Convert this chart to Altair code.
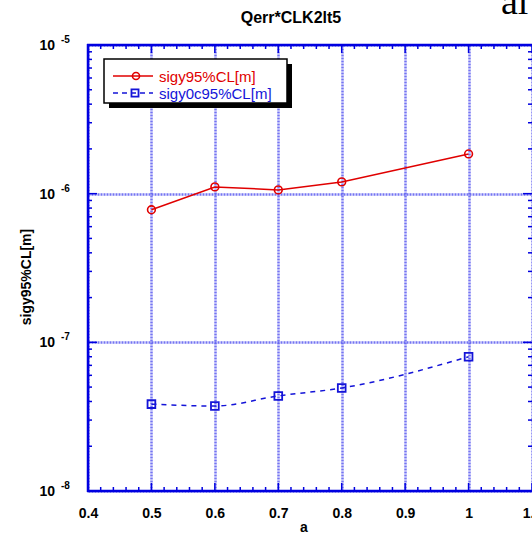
import altair as alt
import pandas as pd

# ---- data ----
a_vals = [0.5, 0.6, 0.7, 0.8, 1.0]
sigy95 = [7.8e-7, 1.11e-6, 1.06e-6, 1.2e-6, 1.85e-6]
sigy0c95 = [3.84e-8, 3.73e-8, 4.36e-8, 4.93e-8, 8.0e-8]

x_major = [0.4, 0.5, 0.6, 0.7, 0.8, 0.9, 1.0, 1.1]
x_minor = [0.42, 0.44, 0.46, 0.48, 0.52, 0.54, 0.56, 0.58, 0.62, 0.64, 0.66, 0.68,
           0.72, 0.74, 0.76, 0.78, 0.82, 0.84, 0.86, 0.88, 0.92, 0.94, 0.96, 0.98,
           1.02, 1.04, 1.06, 1.08]
y_decades = [1e-8, 1e-7, 1e-6, 1e-5]
y_exps = ["-8", "-7", "-6", "-5"]
y_minor = [m * d for d in [1e-8, 1e-7, 1e-6] for m in [2, 3, 4, 5, 6, 7, 8, 9]]

title_text = "Qerr*CLK2lt5"
x_title = "a"
y_title = "sigy95%CL[m]"
series_names = ["sigy95%CL[m]", "sigy0c95%CL[m]"]

# ---- styling ----
W, H = 444, 446
FONT = "Liberation Sans"
AXC = "#0000e0"
GRIDC = "#5c5cf0"
RED = "#e00000"
BLUE = "#1414d8"

xscale = alt.Scale(domain=[0.4, 1.1], nice=False, zero=False)
yscale = alt.Scale(type="log", domain=[1e-8, 1e-5], nice=False)

xaxis = alt.Axis(values=x_major, format="~g", labelFont=FONT, labelFontSize=14,
                 labelFontWeight="bold", labelColor="black", labelPadding=15,
                 ticks=False, domain=False, grid=True, gridColor=GRIDC,
                 gridDash=[2, 1], gridWidth=2.5, gridOpacity=0.85, title=None,
                 labelFlush=False)
yaxis = alt.Axis(values=y_decades, labels=False, ticks=False, domain=False,
                 grid=True, gridColor=GRIDC, gridDash=[2, 1], gridWidth=2.5,
                 gridOpacity=0.85, title=None)

X = lambda: alt.X("a:Q", scale=xscale, axis=xaxis)
Y = lambda: alt.Y("v:Q", scale=yscale, axis=yaxis)

df_red = pd.DataFrame({"a": a_vals, "v": sigy95})
df_blue = pd.DataFrame({"a": a_vals, "v": sigy0c95})

red_line = alt.Chart(df_red).mark_line(color=RED, strokeWidth=1.5).encode(x=X(), y=Y())
red_pts = alt.Chart(df_red).mark_point(shape="circle", filled=False, color=RED,
                                        size=60, strokeWidth=1.6, opacity=1).encode(x=X(), y=Y())
blue_line = alt.Chart(df_blue).mark_line(color=BLUE, strokeWidth=1.5, strokeDash=[5, 5],
                                          interpolate="monotone").encode(x=X(), y=Y())
blue_pts = alt.Chart(df_blue).mark_point(shape="square", filled=False, color=BLUE,
                                          size=60, strokeWidth=1.8, opacity=1).encode(x=X(), y=Y())

# ---- frame (spines) ----
spine_l = alt.Chart().mark_rule(color=AXC, strokeWidth=2.5).encode(
    x=alt.value(0), y=alt.value(-1), y2=alt.value(H + 1))
spine_t = alt.Chart().mark_rule(color=AXC, strokeWidth=2.5).encode(
    x=alt.value(-1), x2=alt.value(W + 2), y=alt.value(0))
spine_b = alt.Chart().mark_rule(color=AXC, strokeWidth=2.5).encode(
    x=alt.value(-1), x2=alt.value(W + 2), y=alt.value(H))

# ---- inward ticks ----
dxm = pd.DataFrame({"a": x_major})
dxn = pd.DataFrame({"a": x_minor})
dym = pd.DataFrame({"v": y_decades})
dyn = pd.DataFrame({"v": y_minor})

def xt(df, y0, y1):
    return alt.Chart(df).mark_rule(color=AXC, strokeWidth=1.5).encode(
        x=X(), y=alt.value(y0), y2=alt.value(y1))

def yt(df, x0, x1):
    return alt.Chart(df).mark_rule(color=AXC, strokeWidth=1.5).encode(
        y=Y(), x=alt.value(x0), x2=alt.value(x1))

ticks = [xt(dxm, H, H - 8), xt(dxn, H, H - 4), xt(dxm, 0, 8), xt(dxn, 0, 4),
         yt(dym, 0, 9), yt(dyn, 0, 4), yt(dym, W, W - 9), yt(dyn, W, W - 4)]

# ---- y tick labels (10 with superscript exponent) ----
dlab = pd.DataFrame({"v": y_decades, "e": y_exps})
ylab10 = alt.Chart(dlab).mark_text(font=FONT, fontSize=14, fontWeight="bold",
                                   align="right", baseline="middle", color="black", dy=1).encode(
    y=Y(), x=alt.value(-33), text=alt.value("10"))
ylabexp = alt.Chart(dlab).mark_text(font=FONT, fontSize=10, fontWeight="bold",
                                    align="left", baseline="middle", color="black", dy=-5).encode(
    y=Y(), x=alt.value(-27), text="e:N")

# ---- titles ----
title_mark = alt.Chart().mark_text(font=FONT, fontSize=16, fontWeight="bold",
                                   align="center", baseline="middle", color="black").encode(
    x=alt.value(203), y=alt.value(-27), text=alt.value(title_text))
xt_mark = alt.Chart().mark_text(font=FONT, fontSize=14, fontWeight="bold",
                                align="center", baseline="alphabetic", color="black").encode(
    x=alt.value(216), y=alt.value(487), text=alt.value(x_title))
yt_mark = alt.Chart().mark_text(font=FONT, fontSize=14, fontWeight="bold", angle=270,
                                align="center", baseline="middle", color="black").encode(
    x=alt.value(-61), y=alt.value(232), text=alt.value(y_title))
corner = alt.Chart().mark_text(font="Liberation Serif", fontSize=38, align="left",
                               baseline="alphabetic", color="black").encode(
    x=alt.value(413), y=alt.value(-31), text=alt.value("al"))

# ---- legend (drawn) ----
LX0, LX1, LY0, LY1 = 16, 199, 14, 58
shadow = alt.Chart().mark_rect(color="black").encode(
    x=alt.value(LX0 + 5), x2=alt.value(LX1 + 5), y=alt.value(LY0 + 5), y2=alt.value(LY1 + 5))
box = alt.Chart().mark_rect(fill="white", stroke="black", strokeWidth=1.5).encode(
    x=alt.value(LX0), x2=alt.value(LX1), y=alt.value(LY0), y2=alt.value(LY1))
r1, r2 = 31, 48
leg = [
    alt.Chart().mark_rule(color=RED, strokeWidth=1.5).encode(
        x=alt.value(25), x2=alt.value(65), y=alt.value(r1)),
    alt.Chart().mark_point(shape="circle", filled=False, color=RED, size=50,
                           strokeWidth=1.6, opacity=1).encode(x=alt.value(48), y=alt.value(r1)),
    alt.Chart().mark_text(font=FONT, fontSize=15, align="left", baseline="middle",
                          color=RED).encode(x=alt.value(71), y=alt.value(r1 + 1),
                                            text=alt.value(series_names[0])),
    alt.Chart().mark_rule(color=BLUE, strokeWidth=1.5, strokeDash=[5, 4]).encode(
        x=alt.value(25), x2=alt.value(65), y=alt.value(r2)),
    alt.Chart().mark_point(shape="square", filled=False, color=BLUE, size=50,
                           strokeWidth=1.8, opacity=1).encode(x=alt.value(47), y=alt.value(r2)),
    alt.Chart().mark_text(font=FONT, fontSize=15, align="left", baseline="middle",
                          color=BLUE).encode(x=alt.value(71), y=alt.value(r2 + 1),
                                             text=alt.value(series_names[1])),
]

chart = alt.layer(
    red_line, red_pts, blue_line, blue_pts,
    *ticks, spine_l, spine_t, spine_b,
    ylab10, ylabexp, title_mark, xt_mark, yt_mark, corner,
    shadow, box, *leg,
).properties(
    width=W, height=H,
    padding={"left": 88, "top": 45, "right": 0, "bottom": 43},
    autosize=alt.AutoSizeParams(type="none"),
).configure_view(stroke=None)

chart.save("out.html", embed_options={"renderer": "svg", "actions": False})
